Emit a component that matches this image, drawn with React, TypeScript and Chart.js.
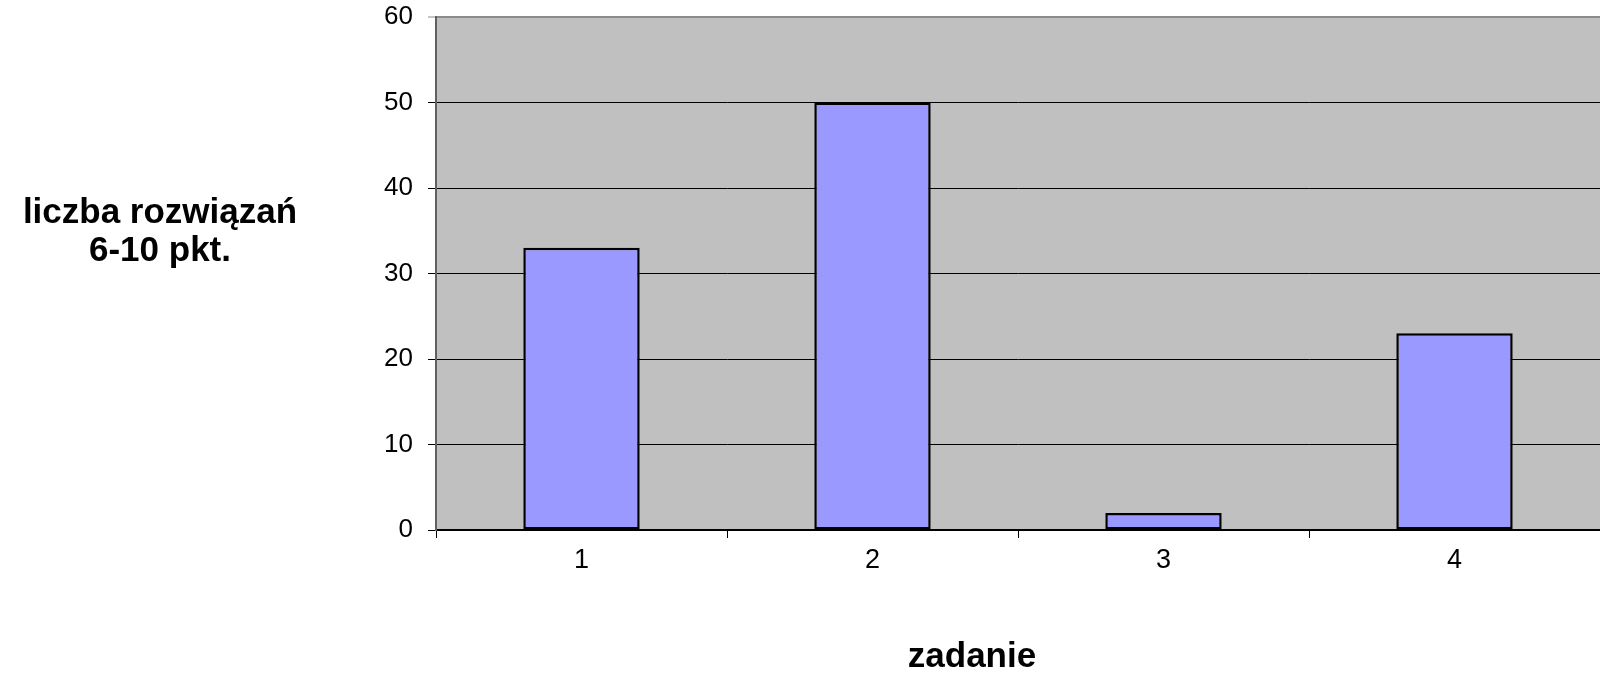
import React, { useEffect, useRef } from 'react';
import { Chart, registerables } from 'chart.js';

Chart.register(...registerables);

const categories = ['1', '2', '3', '4'];
const values = [33, 50, 2, 23];
const yTicks = [0, 10, 20, 30, 40, 50, 60];
const yTitleLines = ['liczba rozwiązań', '6-10 pkt.'];
const xTitle = 'zadanie';

const FONT = '"Liberation Sans", Arial, Helvetica, sans-serif';

const plotBgPlugin = {
  id: 'plotBg',
  beforeDraw(chart: any) {
    const { ctx, chartArea } = chart;
    const { left, top, right, bottom } = chartArea;
    ctx.save();
    ctx.fillStyle = '#C0C0C0';
    ctx.fillRect(left, top, right - left, bottom - top);
    ctx.restore();
  },
};

const titlesPlugin = {
  id: 'axisTitles',
  afterDraw(chart: any) {
    const { ctx } = chart;
    ctx.save();
    ctx.fillStyle = '#000';
    ctx.font = `bold 35px ${FONT}`;
    ctx.textAlign = 'center';
    ctx.textBaseline = 'alphabetic';
    const lineGap = 38.5;
    yTitleLines.forEach((line, i) => {
      ctx.fillText(line, 160, 222.5 + i * lineGap);
    });
    ctx.fillText(xTitle, 972, 667);
    ctx.restore();
  },
};

export default function App() {
  const canvasRef = useRef<HTMLCanvasElement | null>(null);

  useEffect(() => {
    if (!canvasRef.current) return;
    const topValue = yTicks[yTicks.length - 1];
    const chart = new Chart(canvasRef.current, {
      type: 'bar',
      data: {
        labels: categories,
        datasets: [
          {
            data: values,
            backgroundColor: '#9999FF',
            borderColor: '#000000',
            borderWidth: 2.5,
            borderSkipped: false,
            categoryPercentage: 1,
            barPercentage: 0.4,
          },
        ],
      },
      options: {
        animation: false,
        responsive: false,
        devicePixelRatio: 1,
        layout: { padding: { top: 17, left: 0, right: 0, bottom: 0 } },
        plugins: {
          legend: { display: false },
          tooltip: { enabled: false },
          title: { display: false },
        },
        scales: {
          x: {
            type: 'category',
            offset: true,
            grid: {
              display: true,
              offset: true,
              drawOnChartArea: false,
              drawTicks: true,
              tickLength: 8,
              color: '#000',
              tickColor: '#000',
              tickWidth: 1,
            },
            border: { display: true, color: '#000', width: 2 },
            ticks: {
              color: '#000',
              padding: 6,
              font: { family: FONT, size: 27 },
              maxRotation: 0,
            },
            afterFit(scale: any) {
              scale.height = 145;
              scale.paddingLeft = 0;
              scale.paddingRight = 0;
            },
          },
          y: {
            min: yTicks[0],
            max: topValue,
            grid: {
              display: true,
              drawOnChartArea: true,
              drawTicks: true,
              tickLength: 8,
              color: (ctx: any) => (ctx.tick && ctx.tick.value === topValue ? '#8c8c8c' : '#000'),
              lineWidth: (ctx: any) => (ctx.tick && ctx.tick.value === topValue ? 2 : 1),
              tickColor: (ctx: any) => (ctx.tick && ctx.tick.value === topValue ? '#8c8c8c' : '#000'),
              tickWidth: 1,
            },
            border: { display: true, color: '#606060', width: 2 },
            ticks: {
              stepSize: yTicks[1] - yTicks[0],
              color: '#000',
              padding: 15,
              font: { family: FONT, size: 26 },
            },
            afterFit(scale: any) {
              scale.width = 436;
              scale.paddingTop = 0;
              scale.paddingBottom = 0;
            },
          },
        },
      },
      plugins: [plotBgPlugin, titlesPlugin],
    });
    return () => chart.destroy();
  }, []);

  return (
    <canvas
      ref={canvasRef}
      width={1600}
      height={675}
      style={{ position: 'absolute', left: 0, top: 0, width: 1600, height: 675 }}
    />
  );
}
